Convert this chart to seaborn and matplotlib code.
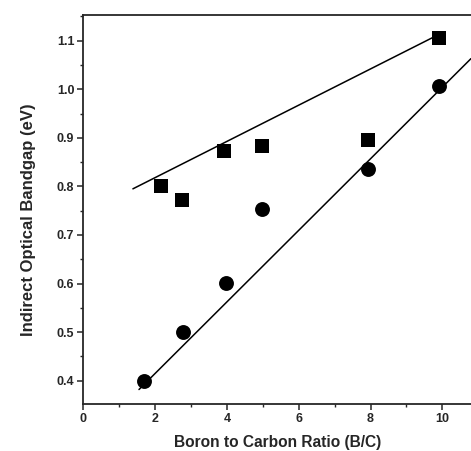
import numpy as np
import pandas as pd
import matplotlib
matplotlib.use("Agg")
import matplotlib.pyplot as plt
from matplotlib.ticker import MultipleLocator
import seaborn as sns

# measured points
square_ratio = [2.15, 2.75, 3.92, 4.97, 7.92, 9.9]
square_gap = [0.801, 0.772, 0.873, 0.884, 0.895, 1.106]
circle_ratio = [1.68, 2.77, 3.97, 4.97, 7.92, 9.9]
circle_gap = [0.400, 0.501, 0.602, 0.754, 0.836, 1.006]

# fitted lines (end points)
square_fit_ratio = [1.38, 9.75]
square_fit_gap = [0.795, 1.107]
circle_fit_ratio = [1.55, 10.8]
circle_fit_gap = [0.382, 1.063]

sns.set_style("ticks")
plt.rcParams['font.family'] = ['Liberation Sans', 'DejaVu Sans']
plt.rcParams['font.weight'] = 'bold'

fig = plt.figure(figsize=(4.71, 4.51), dpi=100)
ax = fig.add_axes([0.177, 0.104, 0.823, 0.863])

sq = pd.DataFrame({"ratio": square_ratio, "gap": square_gap})
ci = pd.DataFrame({"ratio": circle_ratio, "gap": circle_gap})
sq_fit = pd.DataFrame({"ratio": square_fit_ratio, "gap": square_fit_gap})
ci_fit = pd.DataFrame({"ratio": circle_fit_ratio, "gap": circle_fit_gap})

sns.lineplot(data=sq_fit, x="ratio", y="gap", color="black", lw=1.1, ax=ax)
sns.lineplot(data=ci_fit, x="ratio", y="gap", color="black", lw=1.1, ax=ax)
sns.scatterplot(data=sq, x="ratio", y="gap", marker="s", s=95, color="black",
                edgecolor="black", linewidth=0, ax=ax, zorder=3)
sns.scatterplot(data=ci, x="ratio", y="gap", marker="o", s=115, color="black",
                edgecolor="black", linewidth=0, ax=ax, zorder=3)

ax.set_xlim(0, 10.8)
ax.set_ylim(0.352, 1.153)
ax.xaxis.set_major_locator(MultipleLocator(2))
ax.xaxis.set_minor_locator(MultipleLocator(1))
ax.yaxis.set_major_locator(MultipleLocator(0.1))
ax.yaxis.set_minor_locator(MultipleLocator(0.05))
ax.yaxis.set_major_formatter(matplotlib.ticker.FormatStrFormatter('%.1f'))

ax.tick_params(which='major', direction='out', length=4.5, width=1.1,
               labelsize=9, pad=2)
ax.tick_params(which='minor', direction='out', length=2, width=1.0)

for side in ['top', 'left', 'bottom']:
    ax.spines[side].set_visible(True)
    ax.spines[side].set_linewidth(1.3)
ax.spines['right'].set_visible(False)

ax.set_xlabel("Boron to Carbon Ratio (B/C)", fontsize=11.2, fontweight='bold',
              labelpad=7)
ax.set_ylabel("Indirect Optical Bandgap (eV)", fontsize=12, fontweight='bold')
ax.yaxis.set_label_coords(-0.122, 0.473)

fig.savefig("out.png", dpi=100)
